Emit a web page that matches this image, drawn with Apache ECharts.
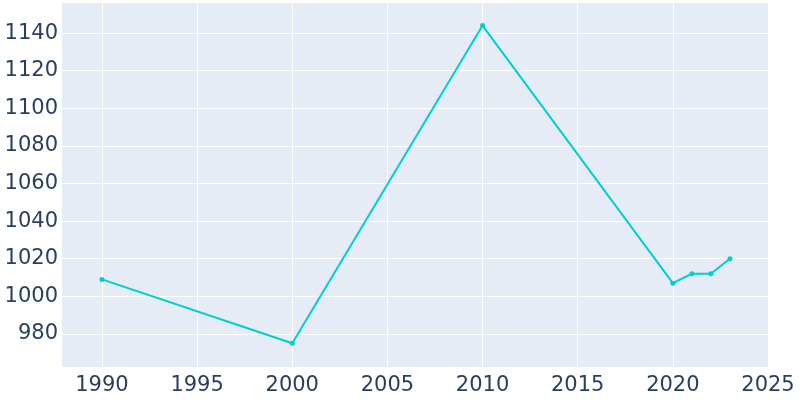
<!DOCTYPE html>
<html lang="en">

<head>
    <meta charset="UTF-8">
    <title>Population</title>
    <style>
        html,
        body {
            margin: 0;
            padding: 0;
            background: #fff;
        }

        #main {
            width: 800px;
            height: 400px;
        }
    </style>
</head>

<body>
    <div id="main"></div>
    <script src="https://cdn.jsdelivr.net/npm/echarts@6/dist/echarts.min.js"></script>
    <script>
        // values
        var years = [1990, 2000, 2010, 2020, 2021, 2022, 2023];
        var population = [1009, 975, 1144, 1007, 1012, 1012, 1020];
        var xTicks = [1990, 1995, 2000, 2005, 2010, 2015, 2020, 2025];
        var yTicks = [980, 1000, 1020, 1040, 1060, 1080, 1100, 1120, 1140];

        var labelFont = {
            color: "#2a3f5f",
            fontFamily: "DejaVu Sans",
            fontSize: 21,
            formatter: function (v) { return String(v); }
        };

        var myChart = echarts.init(document.getElementById("main"));
        var option = {
            animation: false,
            grid: {
                left: 62,
                right: 32,
                top: 3,
                bottom: 33,
                outerBoundsMode: "none",
                containLabel: false,
                show: true,
                backgroundColor: "#e5ecf6",
                borderWidth: 0
            },
            xAxis: {
                type: "value",
                min: 1987.9,
                max: 2025,
                axisLine: { show: false },
                axisTick: { show: false, customValues: xTicks },
                axisLabel: Object.assign({ customValues: xTicks, margin: 8 }, labelFont),
                splitLine: { show: true, lineStyle: { color: "#fff", width: 1 } }
            },
            yAxis: {
                type: "value",
                min: 962.4,
                max: 1156,
                axisLine: { show: false },
                axisTick: { show: false, customValues: yTicks },
                axisLabel: Object.assign({ customValues: yTicks, margin: 4 }, labelFont),
                splitLine: { show: true, lineStyle: { color: "#fff", width: 1 } }
            },
            series: [{
                type: "line",
                data: years.map(function (y, i) { return [y, population[i]]; }),
                symbol: "circle",
                symbolSize: 5,
                itemStyle: { color: "#00ced1" },
                lineStyle: { color: "#00ced1", width: 2 }
            }]
        };
        myChart.setOption(option);
    </script>
</body>

</html>
